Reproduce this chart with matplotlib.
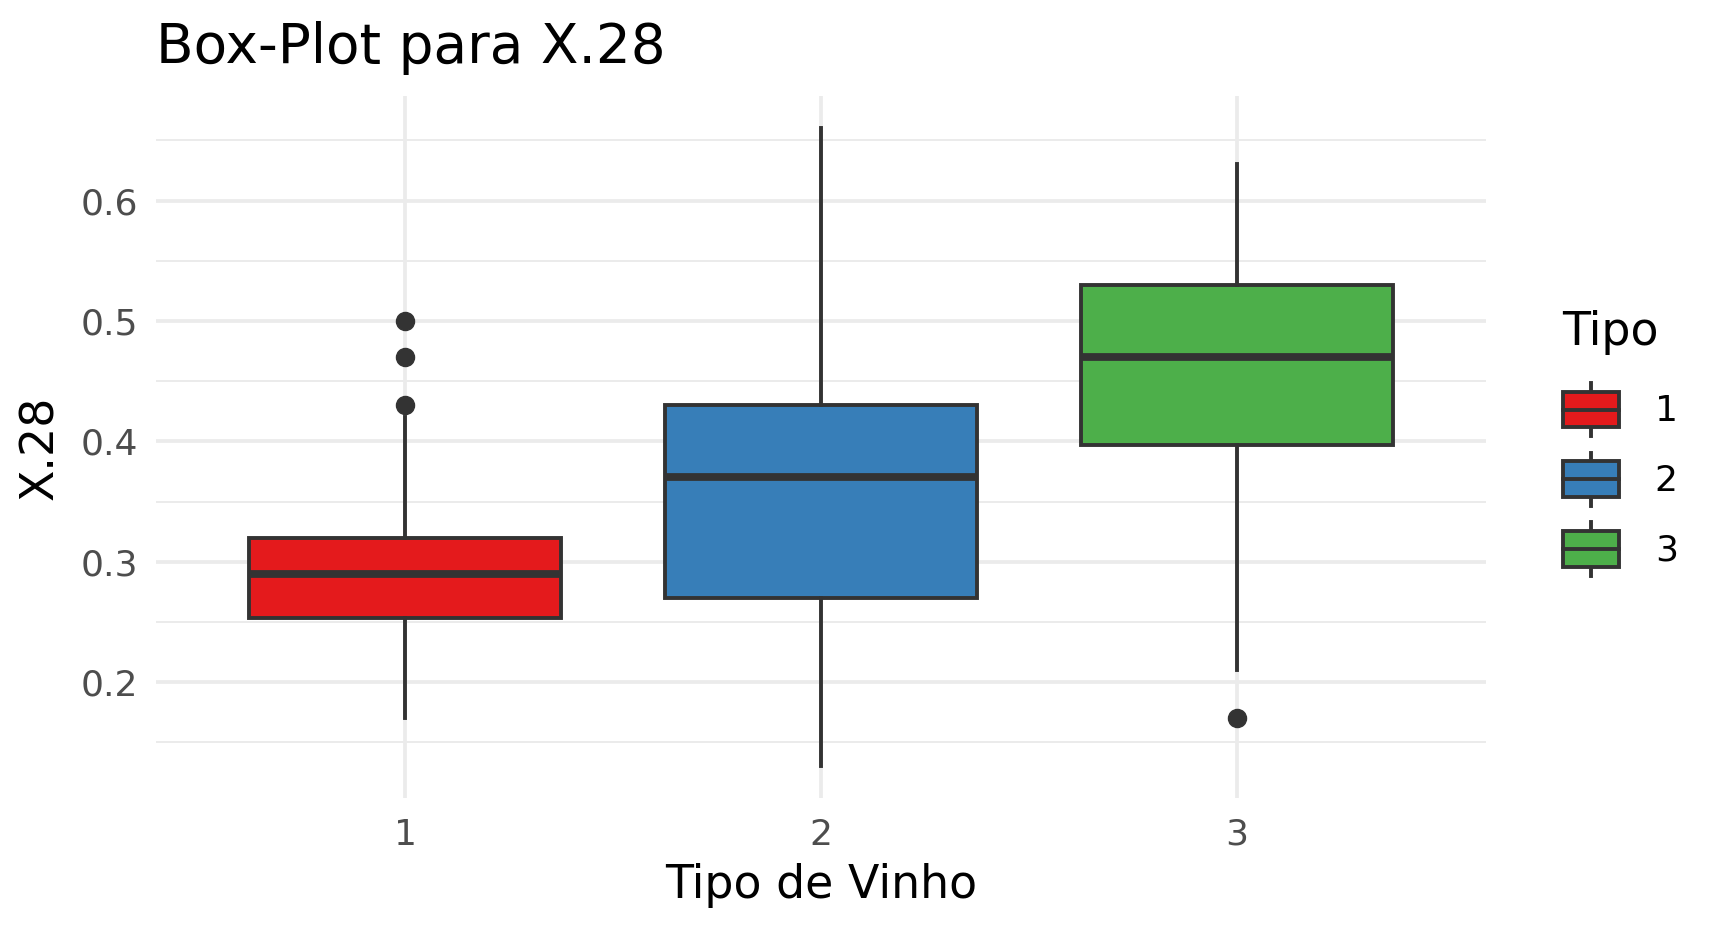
import matplotlib
matplotlib.use("Agg")
import matplotlib.pyplot as plt
from matplotlib.legend_handler import HandlerBase
from matplotlib.patches import Rectangle
from matplotlib.lines import Line2D

# === Daten ===
tipos = ["1", "2", "3"]
q1 = [0.253, 0.27, 0.397]
med = [0.29, 0.37, 0.47]
q3 = [0.32, 0.43, 0.53]
whislo = [0.17, 0.13, 0.21]
whishi = [0.42, 0.66, 0.63]
outliers = [[0.43, 0.47, 0.50], [], [0.17]]
cores = ["#E41A1C", "#377EB8", "#4DAF4A"]

EDGE = "#333333"
GRID = "#EBEBEB"
LW = 2.8

plt.rcParams["font.family"] = ["DejaVu Sans"]

fig = plt.figure(figsize=(17.2, 9.27), dpi=100)
ax = fig.add_axes([0.0906, 0.1388, 0.864 - 0.0906, 0.896 - 0.1388])

stats = []
for i, t in enumerate(tipos):
    stats.append(dict(label=t, q1=q1[i], med=med[i], q3=q3[i],
                      whislo=whislo[i], whishi=whishi[i], fliers=outliers[i]))

pos = list(range(1, len(tipos) + 1))
bp = ax.bxp(stats, positions=pos, widths=0.75, patch_artist=True, showcaps=False,
            boxprops=dict(edgecolor=EDGE, linewidth=LW),
            medianprops=dict(color=EDGE, linewidth=5.6, solid_capstyle="butt"),
            whiskerprops=dict(color=EDGE, linewidth=LW),
            flierprops=dict(marker="o", markerfacecolor=EDGE, markeredgecolor=EDGE,
                            markersize=13))
for patch, c in zip(bp["boxes"], cores):
    patch.set_facecolor(c)
    patch.set_zorder(3)
for k in ("medians", "whiskers", "fliers"):
    for a in bp[k]:
        a.set_zorder(4)

ax.set_xlim(0.4, 3.6)
ax.set_ylim(0.1035, 0.6865)
ax.set_yticks([0.2, 0.3, 0.4, 0.5, 0.6])
ax.set_yticks([0.15, 0.25, 0.35, 0.45, 0.55, 0.65], minor=True)
ax.set_xticks(pos)
ax.set_xticklabels(tipos)
ax.grid(True, which="major", color=GRID, linewidth=2.7, zorder=0)
ax.grid(True, which="minor", axis="y", color=GRID, linewidth=1.4, zorder=0)
ax.set_axisbelow(True)
for s in ax.spines.values():
    s.set_visible(False)
ax.tick_params(axis="both", which="both", length=0, labelsize=26, labelcolor="#4D4D4D")
ax.tick_params(axis="y", pad=13)
ax.tick_params(axis="x", pad=14)

ax.set_xlabel("Tipo de Vinho", fontsize=33, labelpad=8)
ax.set_ylabel("X.28", fontsize=33, labelpad=12)
ax.set_title("Box-Plot para X.28", loc="left", fontsize=39.5, pad=24)


# === Legende im ggplot-Stil ===
class BoxKey(HandlerBase):
    def create_artists(self, legend, orig_handle, xdescent, ydescent, width, height,
                       fontsize, trans):
        bh = height * 0.67
        x0 = -xdescent
        y0 = -ydescent + (height - bh) / 2
        mid = -ydescent + height / 2
        xc = x0 + width / 2
        rect = Rectangle((x0, y0), width, bh, facecolor=orig_handle.get_facecolor(),
                         edgecolor=EDGE, linewidth=LW, transform=trans)
        m = Line2D([x0, x0 + width], [mid, mid], color=EDGE, linewidth=LW, transform=trans)
        top = Line2D([xc, xc], [y0 + bh, -ydescent + height], color=EDGE, linewidth=LW,
                     transform=trans)
        bot = Line2D([xc, xc], [-ydescent, y0], color=EDGE, linewidth=LW, transform=trans)
        return [top, bot, rect, m]


handles = [Rectangle((0, 0), 1, 1, facecolor=c) for c in cores]
leg = fig.legend(handles, tipos, title="Tipo", loc="upper left",
                 bbox_to_anchor=(0.898, 0.685), frameon=False, fontsize=26,
                 title_fontsize=33, handlelength=1.55, handleheight=1.9,
                 labelspacing=0.45, handletextpad=1.0, borderpad=0, alignment="left",
                 handler_map={Rectangle: BoxKey()})
leg._legend_box.sep = 20

fig.savefig("out.png", dpi=100)
